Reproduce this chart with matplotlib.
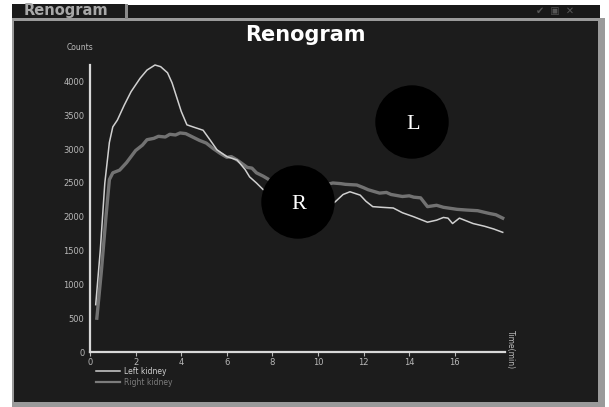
import numpy as np
import matplotlib.pyplot as plt
from matplotlib.patches import Rectangle, Ellipse
from matplotlib.lines import Line2D

# renogram curves (time in min, counts)
t_left = [0.25, 0.45, 0.65, 0.85, 1.0, 1.2, 1.5, 1.8, 2.2, 2.5, 2.85, 3.1, 3.4, 3.6,
          3.8, 4.0, 4.25, 4.6, 4.96, 5.3, 5.57, 6.0, 6.45, 6.8, 7.0, 7.3, 7.6, 8.0,
          8.5, 9.0, 9.5, 10.0, 10.4, 10.75, 11.1, 11.4, 11.85, 12.1, 12.4, 12.8,
          13.3, 13.7, 14.2, 14.5, 14.8, 15.2, 15.5, 15.7, 15.9, 16.2, 16.5, 16.8,
          17.3, 17.7, 18.1]
c_left = [700, 1500, 2500, 3100, 3330, 3430, 3650, 3850, 4050, 4170, 4245, 4220, 4130, 3980,
          3770, 3560, 3360, 3320, 3280, 3120, 2990, 2890, 2840, 2700, 2590, 2500, 2400, 2300,
          2230, 2150, 2100, 2100, 2150, 2220, 2330, 2370, 2320, 2230, 2150, 2140,
          2130, 2060, 2000, 1960, 1920, 1950, 1990, 1980, 1900, 1980, 1940, 1900,
          1860, 1820, 1770]

t_right = [0.3, 0.5, 0.7, 0.85, 1.0, 1.3, 1.6, 2.0, 2.3, 2.5, 2.8, 3.0, 3.3, 3.5, 3.75, 3.95,
           4.2, 4.5, 4.8, 5.1, 5.4, 5.7, 6.0, 6.2, 6.45, 6.9, 7.1, 7.3, 7.6, 7.9, 8.4, 9.0,
           9.5, 10.0, 10.3, 10.65, 11.0, 11.2, 11.7, 12.0, 12.2, 12.7, 13.0, 13.2, 13.7,
           14.0, 14.2, 14.5, 14.8, 15.2, 15.5, 15.7, 16.1, 16.5, 17.0, 17.5, 17.8, 18.1]
c_right = [500, 1200, 2000, 2550, 2650, 2690, 2800, 2980, 3060, 3140, 3160, 3190, 3180, 3220,
           3210, 3240, 3230, 3180, 3130, 3090, 3010, 2940, 2880, 2890, 2840, 2730, 2720, 2650,
           2600, 2540, 2480, 2450, 2440, 2480, 2470, 2500, 2490, 2480, 2470, 2430, 2400, 2350,
           2360, 2330, 2300, 2310, 2290, 2280, 2150, 2170, 2140, 2130, 2110, 2100, 2090, 2050,
           2030, 1980]

xticks = [0, 2, 4, 6, 8, 10, 12, 14, 16]
yticks = [0, 500, 1000, 1500, 2000, 2500, 3000, 3500, 4000]

W, H = 609, 407
def fx(px): return px / W
def fy(py): return 1 - py / H

fig = plt.figure(figsize=(W / 100, H / 100), dpi=100)
fig.patch.set_facecolor('white')

# window frame
def rect(x0, y0, x1, y1, color, z=-10):
    fig.add_artist(Rectangle((fx(x0), fy(y1)), fx(x1) - fx(x0), fy(y0) - fy(y1),
                             transform=fig.transFigure, color=color, zorder=z, lw=0))

rect(12, 18, 605, 407, '#9a9a9a', -12)
rect(14, 21, 598, 402, '#1c1c1c')
rect(12, 4, 125, 18, '#1a1a1a')
rect(128, 5, 600, 18, '#181818')
rect(125, 4, 128, 19, '#8a8a8a')
fig.text(fx(66), fy(11), 'Renogram', color='#a8a8a8', fontsize=10.5, fontweight='bold',
         ha='center', va='center')
fig.text(fx(555), fy(11), '✔  ▣  ✕', color='#555555', fontsize=7, ha='center', va='center')

ax = fig.add_axes([fx(90), fy(352), fx(505) - fx(90), fy(65) - fy(352)])
ax.set_facecolor('none')
ax.plot(t_right, c_right, color='#7c7c7c', lw=2.4, alpha=0.9, label='Right kidney', clip_on=False)
ax.plot(t_left, c_left, color='#d0d0d0', lw=1.1, label='Left kidney', clip_on=False)
ax.set_xlim(0, 18.2)
ax.set_ylim(0, 4245)
ax.set_xticks(xticks)
ax.set_yticks(yticks)
ax.tick_params(axis='x', colors='#b8b8b8', labelsize=6, length=3, width=0.8, pad=1)
ax.tick_params(axis='y', colors='#b8b8b8', labelsize=6, length=0, pad=4)
for s in ['top', 'right']:
    ax.spines[s].set_visible(False)
for s in ['left', 'bottom']:
    ax.spines[s].set_color('#d8d8d8')
    ax.spines[s].set_linewidth(1.6)

handles = [Line2D([], [], color='#d0d0d0', lw=1.1), Line2D([], [], color='#7c7c7c', lw=1.6)]
ax.legend(handles, ['Left kidney', 'Right kidney'], loc='upper left',
          bbox_to_anchor=(fx(96), fy(367)), bbox_transform=fig.transFigure,
          frameon=False, fontsize=5.5, labelcolor='linecolor', handlelength=3.2,
          handletextpad=0.5, labelspacing=0.25, borderpad=0, borderaxespad=0)

fig.text(fx(80), fy(48), 'Counts', color='#bbbbbb', fontsize=5.5, ha='center', va='center')
fig.text(fx(510), fy(350), 'Time(min)', color='#bbbbbb', fontsize=5.5, ha='center',
         va='center', rotation=270)
fig.text(fx(305), fy(35), 'Renogram', color='white', fontsize=15, fontweight='bold',
         ha='center', va='center')

# L / R markers
for cx, cy, lab in [(412, 122, 'L'), (298, 202, 'R')]:
    fig.add_artist(Ellipse((fx(cx), fy(cy)), 72 / W, 72 / H, transform=fig.transFigure,
                           color='black', zorder=10))
    fig.text(fx(cx + 1), fy(cy + 2), lab, color='white', fontsize=16, family='Liberation Serif',
             ha='center', va='center', zorder=11)

fig.savefig('out.png', dpi=100)
